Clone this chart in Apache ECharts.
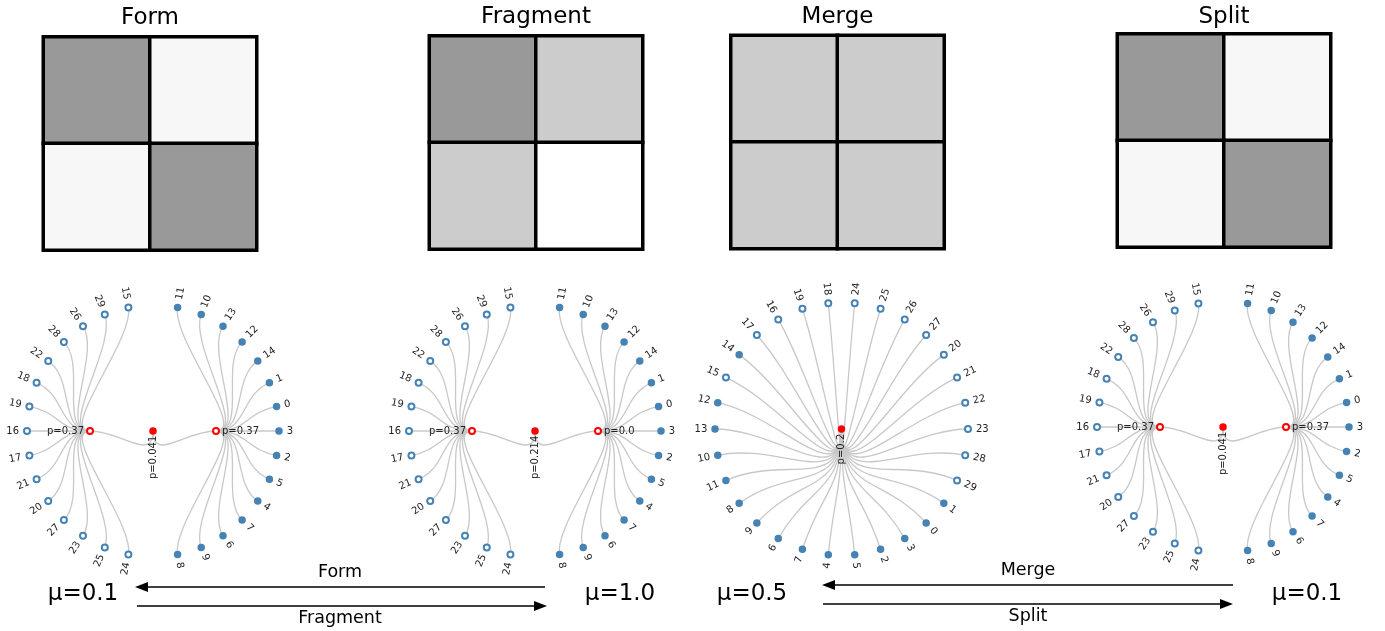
<!DOCTYPE html>
<html>
<head>
<meta charset="utf-8">
<script src="https://cdn.jsdelivr.net/npm/echarts@6/dist/echarts.min.js"></script>
<style>
  html, body { margin: 0; padding: 0; background: #ffffff; }
  #chart { width: 1385px; height: 631px; }
</style>
</head>
<body>
<div id="chart"></div>
<script>
// ---- data -------------------------------------------------------------
const panelTitles = ['Form', 'Fragment', 'Merge', 'Split'];
const muLabels = ['μ=0.1', 'μ=1.0', 'μ=0.5', 'μ=0.1'];
const blockCategories = ['C1', 'C2'];

// 2x2 block shades, row-major: top-left, top-right, bottom-left, bottom-right
const shadeForm = [0.6, 0.97, 0.97, 0.6];
const shadeFragment = [0.6, 0.8, 0.8, 1.0];
const shadeMerge = [0.8, 0.8, 0.8, 0.8];
const shadeSplit = [0.6, 0.97, 0.97, 0.6];

// members of the first ground-truth community (drawn filled)
const communityOne = [0, 1, 2, 3, 4, 5, 6, 7, 8, 9, 10, 11, 12, 13, 14];

// leaf order of each detected cluster
const clusterA = [11, 10, 13, 12, 14, 1, 0, 3, 2, 5, 4, 7, 6, 9, 8];
const clusterB = [24, 25, 23, 27, 20, 21, 17, 16, 19, 18, 22, 28, 26, 29, 15];
const mergedCluster = [24, 25, 26, 27, 20, 21, 22, 23, 28, 29, 1, 0, 3, 2, 5, 4, 7, 6, 9, 8,
                       11, 10, 13, 12, 15, 14, 17, 16, 19, 18];

// p-values shown at the root and at each cluster node
const rootP = ['p=0.041', 'p=0.214', 'p=0.2', 'p=0.041'];
const clusterAP = ['p=0.37', 'p=0.0', null, 'p=0.37'];
const clusterBP = ['p=0.37', 'p=0.37', null, 'p=0.37'];

// ---- layout -----------------------------------------------------------
const heatBoxes = [
  { cx: 150, cy: 143.5 }, { cx: 536, cy: 142.5 }, { cx: 837.5, cy: 142 }, { cx: 1224, cy: 140.5 }
];
const heatSize = 213;
const treeBoxes = [
  { cx: 153, cy: 431, r: 126 }, { cx: 535, cy: 431, r: 126 },
  { cx: 841.5, cy: 429, r: 126.5 }, { cx: 1223, cy: 427, r: 126 }
];
const titleYs = [18, 17, 17, 17];
const muY = 594;
const muX = [83, 620, 752, 1307];

const BLUE = '#4682b4';
const RED = '#ff0000';
const FONT = 'DejaVu Sans';

// ---- heatmaps ---------------------------------------------------------
const shades = [shadeForm, shadeFragment, shadeMerge, shadeSplit];
const grids = [], xAxes = [], yAxes = [], series = [];
shades.forEach(function (s, i) {
  const b = heatBoxes[i];
  grids.push({ left: b.cx - heatSize / 2, top: b.cy - heatSize / 2, width: heatSize, height: heatSize });
  xAxes.push({ type: 'category', data: blockCategories, gridIndex: i, show: false });
  yAxes.push({ type: 'category', data: blockCategories, gridIndex: i, show: false, inverse: true });
  const data = [];
  for (let r = 0; r < 2; r++) {
    for (let c = 0; c < 2; c++) data.push([c, r, s[r * 2 + c]]);
  }
  series.push({
    type: 'heatmap', xAxisIndex: i, yAxisIndex: i, data: data,
    itemStyle: { borderColor: '#000', borderWidth: 3.5 },
    emphasis: { disabled: true }, label: { show: false }
  });
});

// ---- dendrograms ------------------------------------------------------
function leafNode(id) {
  const filled = communityOne.indexOf(id) >= 0;
  return {
    name: String(id),
    symbol: filled ? 'circle' : 'emptyCircle',
    itemStyle: { color: BLUE, borderColor: BLUE }
  };
}
function clusterNode(p, leaves, side) {
  return {
    name: p,
    symbol: 'emptyCircle',
    itemStyle: { color: RED, borderColor: RED },
    label: { position: side, rotate: 0, distance: 2 },
    children: leaves.map(leafNode)
  };
}
function rootNode(i) {
  const node = {
    name: rootP[i],
    symbol: 'circle',
    itemStyle: { color: RED, borderColor: RED },
    label: { position: 'left', rotate: 90, distance: 1 }
  };
  if (clusterAP[i] === null) {
    node.children = mergedCluster.map(leafNode);
  } else {
    node.children = [clusterNode(clusterAP[i], clusterA, 'right'),
                     clusterNode(clusterBP[i], clusterB, 'left')];
  }
  return node;
}
treeBoxes.forEach(function (t, i) {
  series.push({
    type: 'tree',
    layout: 'radial',
    left: t.cx - t.r, top: t.cy - t.r, width: 2 * t.r, height: 2 * t.r,
    data: [rootNode(i)],
    symbolSize: 6,
    initialTreeDepth: -1,
    expandAndCollapse: false,
    roam: false,
    edgeShape: 'curve',
    lineStyle: { color: '#c8c8c8', width: 1.3, curveness: 0.5 },
    itemStyle: { borderWidth: 1.5 },
    label: { fontSize: 10, color: '#222', fontFamily: FONT, distance: 4 },
    emphasis: { disabled: true }
  });
});

// ---- annotations --------------------------------------------------------
function text(x, y, str, size) {
  return {
    type: 'text', x: x, y: y, silent: true,
    style: {
      text: str, fill: '#000', fontSize: size, fontFamily: FONT,
      align: 'center', verticalAlign: 'middle',
      textAlign: 'center', textVerticalAlign: 'middle'
    }
  };
}
function arrow(x0, x1, y) {
  const dir = x1 > x0 ? 1 : -1;
  const head = 13, half = 5;
  return [
    { type: 'line', silent: true,
      shape: { x1: x0, y1: y, x2: x1 - dir * head, y2: y },
      style: { stroke: '#000', lineWidth: 1.5 } },
    { type: 'polygon', silent: true,
      shape: { points: [[x1, y], [x1 - dir * head, y - half], [x1 - dir * head, y + half]] },
      style: { fill: '#000' } }
  ];
}
const graphics = [];
panelTitles.forEach(function (t, i) { graphics.push(text(heatBoxes[i].cx, titleYs[i], t, 23)); });
muLabels.forEach(function (t, i) { graphics.push(text(muX[i], muY, t, 23)); });
graphics.push.apply(graphics, arrow(545, 135, 587));
graphics.push.apply(graphics, arrow(137, 547, 606));
graphics.push.apply(graphics, arrow(1233, 822, 585));
graphics.push.apply(graphics, arrow(823, 1233, 604));
graphics.push(text(340, 572, 'Form', 17.5));
graphics.push(text(340, 618, 'Fragment', 17.5));
graphics.push(text(1028, 570, 'Merge', 17.5));
graphics.push(text(1028, 616, 'Split', 17.5));

const chart = echarts.init(document.getElementById('chart'), null, { renderer: 'canvas' });
chart.setOption({
  animation: false,
  backgroundColor: '#ffffff',
  textStyle: { fontFamily: FONT },
  grid: grids,
  xAxis: xAxes,
  yAxis: yAxes,
  visualMap: {
    type: 'continuous', show: false, min: 0, max: 1,
    seriesIndex: [0, 1, 2, 3],
    inRange: { color: ['#000000', '#ffffff'] }
  },
  series: series,
  graphic: { elements: graphics }
});
</script>
</body>
</html>
